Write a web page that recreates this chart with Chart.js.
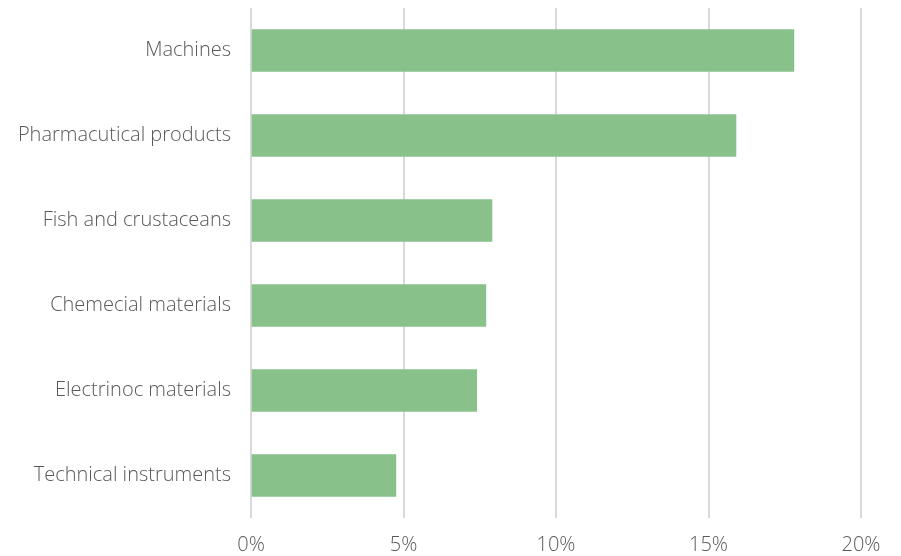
<!DOCTYPE html>
<html>
<head>
<meta charset="utf-8">
<script src="https://cdn.jsdelivr.net/npm/chart.js@4/dist/chart.umd.min.js"></script>
<style>
  html, body { margin: 0; padding: 0; background: #ffffff; }
  #wrap { width: 901px; height: 556px; }
</style>
</head>
<body>
<div id="wrap"><canvas id="chart" width="901" height="556"></canvas></div>
<script>
// Export shares by product group (percent)
const categories = [
  "Machines",
  "Pharmacutical products",
  "Fish and crustaceans",
  "Chemecial materials",
  "Electrinoc materials",
  "Technical instruments"
];
const shares = [17.8, 15.9, 7.9, 7.7, 7.4, 4.75];
const tickValues = [0, 5, 10, 15, 20];

const labelFont = { family: "'Open Sans', 'Liberation Sans', sans-serif", size: 20, weight: 300 };

new Chart(document.getElementById("chart"), {
  type: "bar",
  data: {
    labels: categories,
    datasets: [{
      data: shares,
      backgroundColor: "#89c18a",
      borderWidth: 0,
      barThickness: 42
    }]
  },
  options: {
    indexAxis: "y",
    responsive: false,
    animation: false,
    devicePixelRatio: 1,
    layout: { padding: { top: 8, right: 40, left: 0, bottom: 0 } },
    plugins: { legend: { display: false }, tooltip: { enabled: false } },
    scales: {
      x: {
        min: 0,
        max: 20,
        afterBuildTicks: (axis) => { axis.ticks = tickValues.map(v => ({ value: v })); },
        afterFit: (axis) => { axis.height = 38; axis.paddingLeft = 0; axis.paddingRight = 0; },
        border: { display: false },
        grid: { color: "#d9d9d9", lineWidth: 2, drawTicks: false },
        ticks: {
          color: "#595959",
          font: labelFont,
          padding: 15,
          callback: (v) => v + "%"
        }
      },
      y: {
        afterFit: (axis) => { axis.width = 251; axis.paddingTop = 0; axis.paddingBottom = 0; },
        border: { display: false },
        grid: { display: false, drawTicks: false },
        ticks: {
          color: "#595959",
          font: labelFont,
          padding: 20
        }
      }
    }
  }
});
</script>
</body>
</html>
